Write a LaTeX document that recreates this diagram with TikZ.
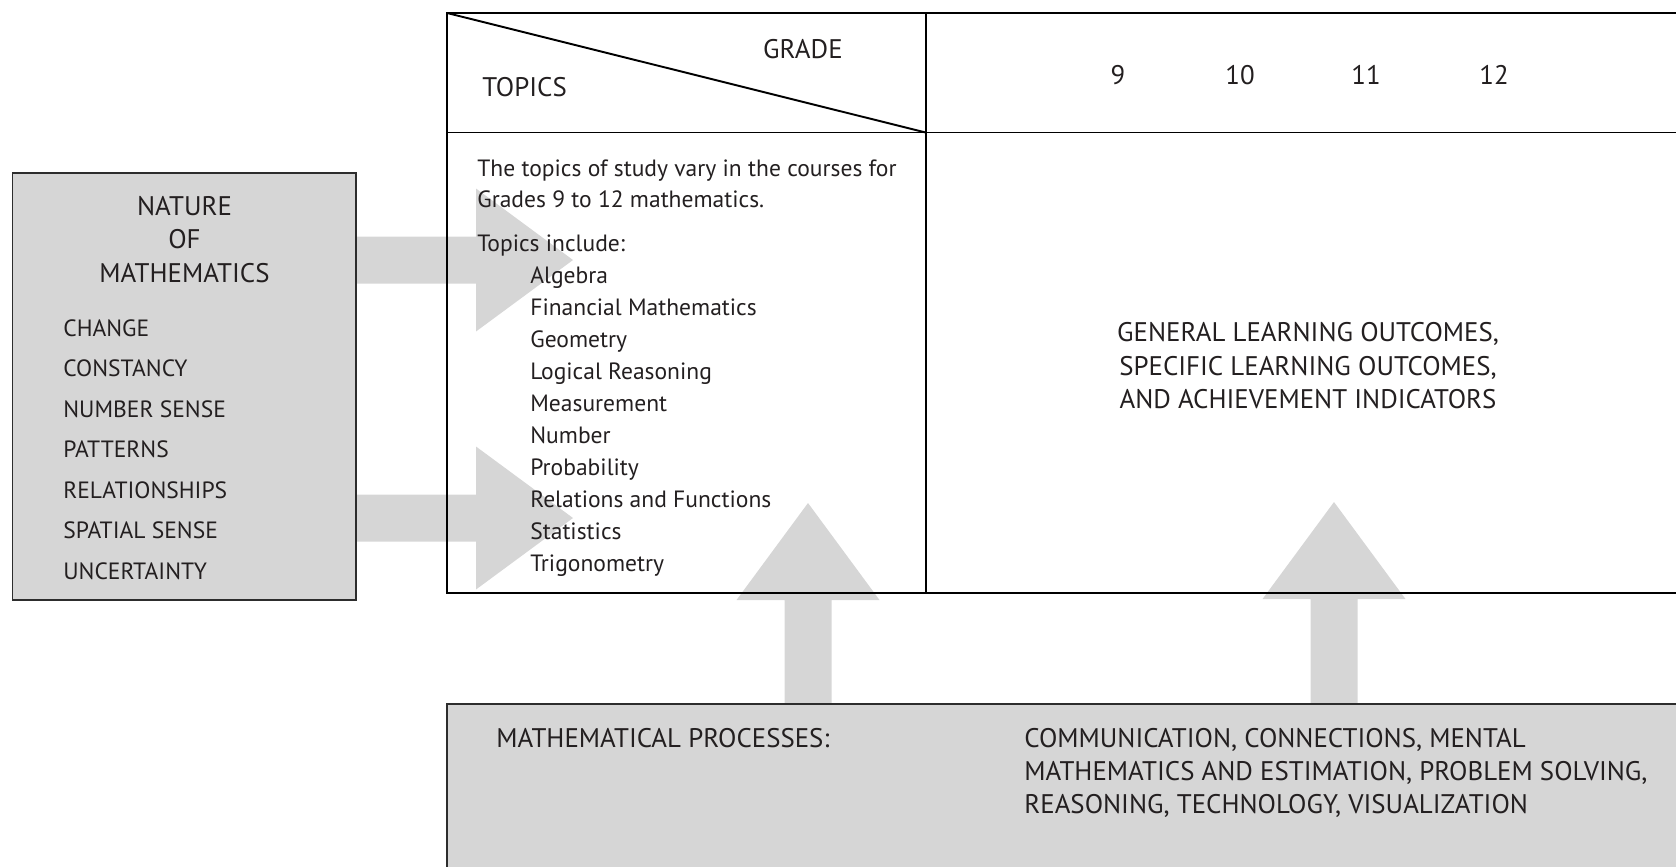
\documentclass[tikz,border=0pt]{standalone}
\usepackage{fontspec}
\setmainfont{PT Sans}
\usetikzlibrary{calc,fit}

\definecolor{panelgrey}{RGB}{214,214,214}
\definecolor{framegrey}{RGB}{45,45,45}
\definecolor{ink}{RGB}{35,31,32}

% wide grey arrow: base point, direction, length
\newcommand{\blockarrow}[3]{%
  \begin{scope}[shift={(#1)}, rotate=#2]
    \fill[panelgrey] (0,-23.5) -- (#3-97,-23.5) -- (#3-97,-71.5) -- (#3,0)
      -- (#3-97,71.5) -- (#3-97,23.5) -- (0,23.5) -- cycle;
  \end{scope}}

\tikzset{
  panel/.style={draw=framegrey, line width=0.7pt, fill=panelgrey, inner sep=0pt},
  rule/.style={draw=black, line width=1.1pt},
  body/.style={font=\fontsize{13.4}{16}\selectfont, text=ink, inner sep=0pt},
  heading/.style={font=\fontsize{15.3}{18}\selectfont, text=ink, inner sep=0pt},
}

\begin{document}
\begin{tikzpicture}[x=0.02cm, y=-0.02cm]
    \useasboundingbox (0,0) rectangle (1676,866);

    % Tips of the four arrows
    \coordinate (tipA) at (573,260);
    \coordinate (tipB) at (573,518);
    \coordinate (tipC) at (808,503);
    \coordinate (tipD) at (1334,502);

    % Boxes (outline only, filled later)
    \path (12.8,173) coordinate (nature-nw) (356,600) coordinate (nature-se);
    \path (447,704) coordinate (proc-nw) (1700,880) coordinate (proc-se);

    % Arrows go under everything
    \blockarrow{nature-se |- tipA}{0}{217}
    \blockarrow{nature-se |- tipB}{0}{217}
    \blockarrow{tipC |- proc-nw}{90}{201}
    \blockarrow{tipD |- proc-nw}{90}{202}

    % Nature of mathematics
    \node[panel, fit=(nature-nw) (nature-se)] (nature) {};
    \node[heading, anchor=base] (nature-t1) at (184.5,215) {NATURE};
    \node[heading, anchor=base] (nature-t2) at (184.5,248) {OF};
    \node[heading, anchor=base] (nature-t3) at (184.5,282) {MATHEMATICS};
    \foreach \word [count=\i from 0] in {CHANGE, CONSTANCY, NUMBER SENSE,
        PATTERNS, RELATIONSHIPS, SPATIAL SENSE, UNCERTAINTY}
      \node[body, anchor=base west] (quality-\i) at (63,336+40.5*\i) {\word};

    % Processes
    \node[panel, fit=(proc-nw) (proc-se)] (proc) {};
    \node[heading, anchor=base west] (proc-title) at (496,747) {MATHEMATICAL PROCESSES:};
    \node[heading, anchor=base west] (proc-l1) at (1024,747) {COMMUNICATION, CONNECTIONS, MENTAL};
    \node[heading, anchor=base west] (proc-l2) at (1024,780) {MATHEMATICS AND ESTIMATION, PROBLEM SOLVING,};
    \node[heading, anchor=base west] (proc-l3) at (1024,813) {REASONING, TECHNOLOGY, VISUALIZATION};

    % Table grid
    \path (447,13) coordinate (tbl-nw) (925.6,132.5) coordinate (tbl-split)
          (1700,593) coordinate (tbl-se);
    \draw[rule] (tbl-nw) rectangle (tbl-se);
    \draw[rule] (tbl-nw |- tbl-split) -- (tbl-se |- tbl-split);
    \draw[rule] (tbl-split |- tbl-nw) -- (tbl-split |- tbl-se);
    \draw[rule] (tbl-nw) -- (tbl-split);

    % Header
    \node[heading, anchor=base east] (grade) at (843,58) {GRADE};
    \node[heading, anchor=base west] (topics) at (482,96) {TOPICS};
    \node[heading, anchor=base] (g9) at (1118,84) {9};
    \node[heading, anchor=base] (g10) at (1240,84) {10};
    \node[heading, anchor=base] (g11) at (1366,84) {11};
    \node[heading, anchor=base] (g12) at (1494,84) {12};

    % Topics column
    \node[body, anchor=base west] (intro1) at (477,176) {The topics of study vary in the courses for};
    \node[body, anchor=base west] (intro2) at (477,207) {Grades 9 to 12 mathematics.};
    \node[body, anchor=base west] (include) at (477,251) {Topics include:};
    \foreach \topic [count=\i from 0] in {Algebra, Financial Mathematics, Geometry,
        Logical Reasoning, Measurement, Number, Probability,
        Relations and Functions, Statistics, Trigonometry}
      \node[body, anchor=base west] (topic-\i) at (530,283+32*\i) {\topic};

    % Outcomes
    \node[heading, anchor=base] (out1) at (1308,341) {GENERAL LEARNING OUTCOMES,};
    \node[heading, anchor=base] (out2) at (1308,375) {SPECIFIC LEARNING OUTCOMES,};
    \node[heading, anchor=base] (out3) at (1308,408) {AND ACHIEVEMENT INDICATORS};
\end{tikzpicture}
\end{document}
